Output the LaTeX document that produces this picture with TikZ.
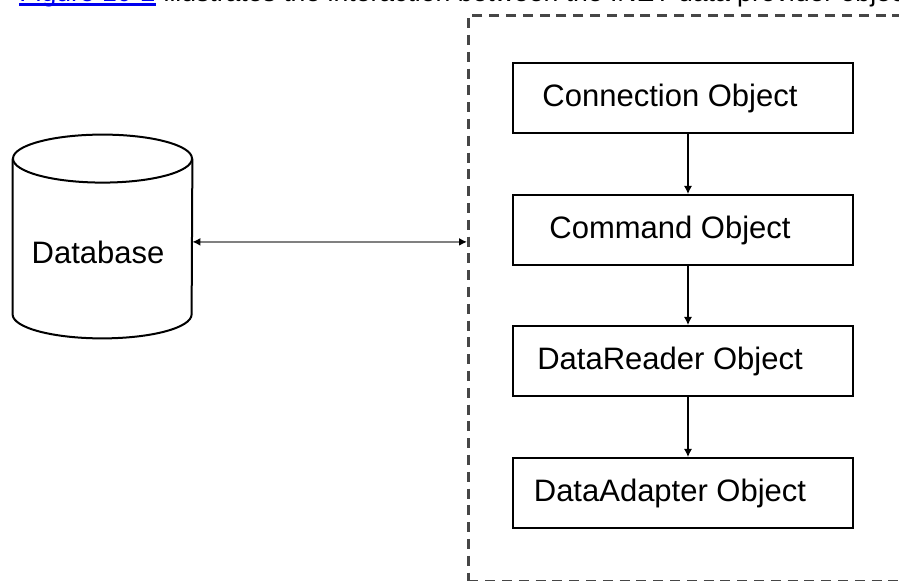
\documentclass[tikz,border=0pt]{standalone}
\usepackage{fontspec}
\setmainfont{Liberation Sans}
\usetikzlibrary{arrows.meta}
\definecolor{linkblue}{RGB}{0,0,238}
\definecolor{dashgray}{RGB}{70,70,70}

\begin{document}
\begin{tikzpicture}[
  x=0.5pt, y=-0.5pt,
  every node/.style={font=\fontsize{15.5}{18}\selectfont},
  objbox/.style={draw, line width=1pt, minimum width=170pt, minimum height=35pt,
    execute at begin node={\hspace*{-13pt}}},
  dbbody/.style={inner sep=0pt, minimum width=89.5pt, minimum height=101.5pt},
  dbline/.style={line width=1pt},
  providerbox/.style={draw=dashgray, line width=1.4pt, dash pattern=on 5pt off 3.4pt,
    minimum width=240pt, minimum height=283pt, anchor=north west},
  captext/.style={anchor=base west, inner sep=0pt, font=\fontsize{13.3}{16}\selectfont},
  flow/.style={line width=0.6pt, -{Latex[length=4pt, width=4pt]}},
  link/.style={gray, line width=0.8pt, {Latex[length=4pt, width=4pt, black]}-{Latex[length=4pt, width=4pt, black]}}
]
\useasboundingbox (0,0) rectangle (899,581);
\clip (0,0) rectangle (899,581);

% caption line running along the top
\node[captext, text=linkblue] (figref) at (19,2) {Figure 10-2};
\node[captext] (caption) at (figref.base east)
  {\ illustrates the interaction between the .NET data provider objects};
\draw[linkblue, line width=1.2pt] ([yshift=-1.2pt]figref.base west) -- ([yshift=-1.2pt]figref.base east);

\node[providerbox] (provider) at (467,14) {};

% database drum
\node[dbbody, label={[yshift=-8.2pt, xshift=-2.2pt]center:Database}] (db) at (102.5,236.5) {};
\draw[dbline] ([yshift=-12pt]db.north) ellipse [x radius=44.75pt, y radius=12pt];
\draw[dbline] ([yshift=-12pt]db.north west) -- ([yshift=12pt]db.south west)
  arc[start angle=180, end angle=360, x radius=44.75pt, y radius=12pt]
  -- ([yshift=-12pt]db.north east);

\node[objbox] (conn) at (683,98) {Connection Object};
\node[objbox] (cmd) at (683,230) {Command Object};
\node[objbox] (reader) at (683,361) {DataReader Object};
\node[objbox] (adapter) at (683,493) {DataAdapter Object};

\draw[flow] ([xshift=2.5pt]conn.south) -- ([xshift=2.5pt]cmd.north);
\draw[flow] ([xshift=2.5pt]cmd.south) -- ([xshift=2.5pt]reader.north);
\draw[flow] ([xshift=2.5pt]reader.south) -- ([xshift=2.5pt]adapter.north);

\draw[link] ([yshift=-2.7pt]db.east) -- ([yshift=-2.7pt]db.east -| provider.west);
\end{tikzpicture}
\end{document}
